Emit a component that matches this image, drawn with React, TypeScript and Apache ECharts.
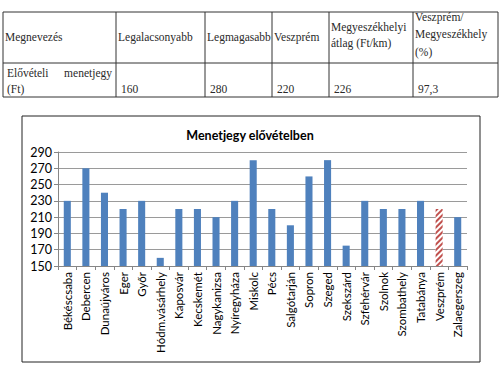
import React, { useEffect, useRef } from "react";
import * as echarts from "echarts";

const categories = [
  "Békéscsaba", "Debercen", "Dunaújváros", "Eger", "Győr", "Hódm.vásárhely",
  "Kaposvár", "Kecskemét", "Nagykanizsa", "Nyíregyháza", "Miskolc", "Pécs",
  "Salgótarján", "Sopron", "Szeged", "Szekszárd", "Szfehérvár", "Szolnok",
  "Szombathely", "Tatabánya", "Veszprém", "Zalaegerszeg",
];
const values = [230, 270, 240, 220, 230, 160, 220, 220, 210, 230, 280, 220, 200, 260, 280, 175, 230, 220, 220, 230, 220, 210];
const highlighted = "Veszprém";
const yTicks = { min: 150, max: 290, interval: 20 };
const chartTitle = "Menetjegy elővételben";

const tableHeader: string[][] = [
  ["Megnevezés"],
  ["Legalacsonyabb"],
  ["Legmagasabb"],
  ["Veszprém"],
  ["Megyeszékhelyi", "átlag (Ft/km)"],
  ["Veszprém/", "Megyeszékhely", "(%)"],
];
const tableRowLabel = ["Elővételi", "menetjegy", "(Ft)"];
const tableRowValues = ["160", "280", "220", "226", "97,3"];

export default function App() {
  const ref = useRef<HTMLDivElement>(null);
  useEffect(() => {
    if (!ref.current) return;
    const chart = echarts.init(ref.current, null, { renderer: "svg" });

    const colX = [3, 116, 205, 272, 329, 413, 498];
    const tTop = 12, tMid = 63, tBot = 97;
    const serif = "'Liberation Serif', serif";
    const tColor = "#2a2a2a";
    const graphics: any[] = [];
    const ls = { stroke: "#333", lineWidth: 1 };
    graphics.push({ type: "line", shape: { x1: colX[0], y1: tTop, x2: colX[6], y2: tTop }, style: ls });
    graphics.push({ type: "line", shape: { x1: colX[0], y1: tMid, x2: colX[6], y2: tMid }, style: ls });
    graphics.push({ type: "line", shape: { x1: colX[0], y1: tBot, x2: colX[6], y2: tBot }, style: ls });
    colX.forEach((x) => {
      graphics.push({ type: "line", shape: { x1: x, y1: tTop, x2: x, y2: tBot }, style: ls });
    });
    const txt = (t: string, x: number, y: number, align = "left") => ({
      type: "text", x, y,
      style: { text: t, fill: tColor, fontFamily: serif, fontSize: 11.5, align, verticalAlign: "middle" },
    });
    const headerYs: Record<number, number[]> = { 1: [37], 2: [27, 43], 3: [17, 34, 52] };
    tableHeader.forEach((lines, i) => {
      const ys = headerYs[lines.length];
      lines.forEach((l, j) => graphics.push(txt(l, colX[i] + 2, ys[j])));
    });
    graphics.push(txt(tableRowLabel[0], colX[0] + 4, 73));
    graphics.push(txt(tableRowLabel[1], colX[1] - 4, 73, "right"));
    graphics.push(txt(tableRowLabel[2], colX[0] + 4, 89));
    tableRowValues.forEach((v, i) => graphics.push(txt(v, colX[i + 1] + 5, 89)));

    graphics.push({ type: "rect", shape: { x: 22, y: 116, width: 458, height: 246 }, style: { fill: "none", stroke: "#222", lineWidth: 1 } });

    const sans = "Lato";
    chart.setOption({
      animation: false,
      title: {
        text: chartTitle, left: "center", top: 124,
        textStyle: { fontFamily: sans, fontSize: 12.5, fontWeight: "bold", color: "#000" },
      },
      grid: { left: 58, right: 33, top: 152, bottom: 106, containLabel: false },
      xAxis: {
        type: "category", data: categories,
        axisLine: { lineStyle: { color: "#868686" } },
        axisTick: { show: true, length: 4, lineStyle: { color: "#868686" } },
        axisLabel: { rotate: 90, interval: 0, fontFamily: sans, fontSize: 11.5, color: "#000", margin: 6 },
      },
      yAxis: {
        type: "value", min: yTicks.min, max: yTicks.max, interval: yTicks.interval,
        axisLine: { show: true, lineStyle: { color: "#868686" } },
        axisTick: { show: true, length: 4, lineStyle: { color: "#868686" } },
        splitLine: { lineStyle: { color: "#9a9a9a" } },
        axisLabel: { fontFamily: sans, fontSize: 12.5, color: "#000", margin: 6 },
      },
      series: [{
        type: "bar", barWidth: "38%",
        data: values.map((v, i) => categories[i] === highlighted
          ? {
              value: v,
              itemStyle: {
                color: "#ffffff",
                decal: {
                  symbol: "rect", symbolSize: 1, color: "#C0504D", backgroundColor: "#ffffff",
                  dashArrayX: [1, 0], dashArrayY: [1.5, 1.5], rotation: -Math.PI / 4,
                },
              },
            }
          : v),
        itemStyle: { color: "#4F81BD" },
      }],
      graphic: graphics,
    });
    return () => chart.dispose();
  }, []);
  return <div ref={ref} style={{ position: "absolute", left: 0, top: 0, width: 500, height: 372, background: "#fff" }} />;
}
